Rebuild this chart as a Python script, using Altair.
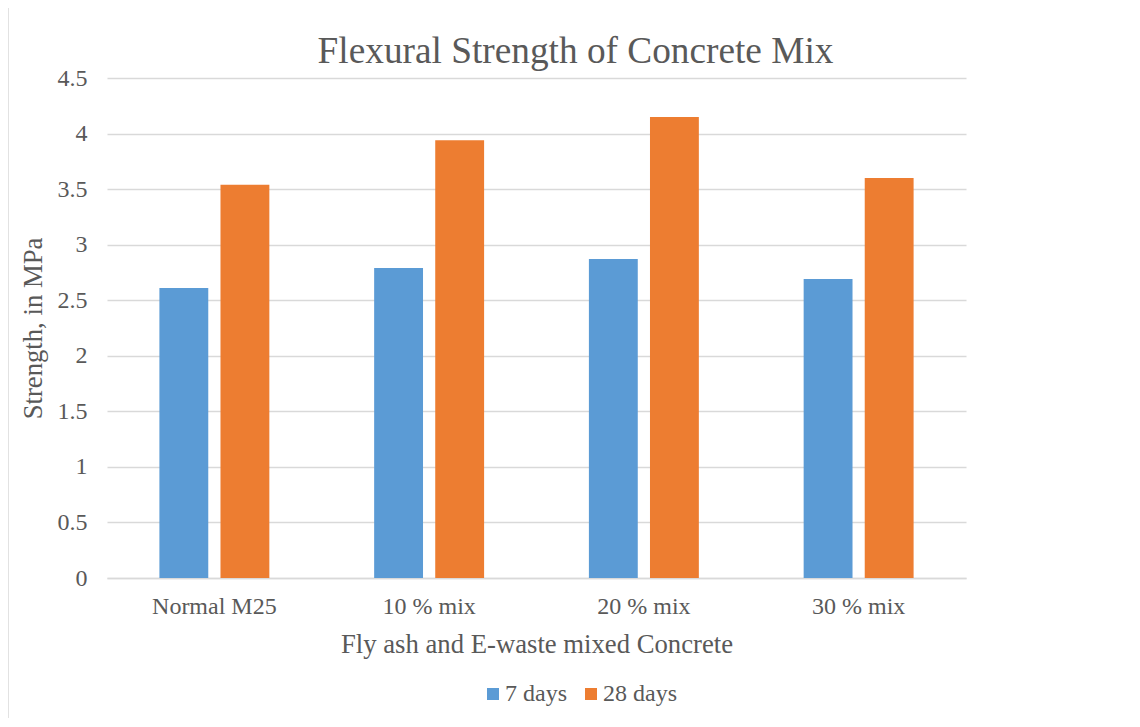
import altair as alt
import pandas as pd

categories = ["Normal M25", "10 % mix", "20 % mix", "30 % mix"]
series = ["7 days", "28 days"]
days7 = [2.61, 2.79, 2.87, 2.69]
days28 = [3.54, 3.94, 4.15, 3.60]
y_ticks = [0, 0.5, 1, 1.5, 2, 2.5, 3, 3.5, 4, 4.5]
title_text = "Flexural Strength of Concrete Mix"

rows = []
for c, a, b in zip(categories, days7, days28):
    rows.append({"cat": c, "series": "7 days", "value": a})
    rows.append({"cat": c, "series": "28 days", "value": b})
df = pd.DataFrame(rows)

FONT = "Times New Roman, Liberation Serif, serif"
TXT = "#595959"

bars = alt.Chart(df).mark_bar().encode(
    x=alt.X("cat:N", sort=categories,
            scale=alt.Scale(paddingInner=0.488, paddingOuter=0.244),
            axis=alt.Axis(title="Fly ash and E-waste mixed Concrete", labelAngle=0,
                          ticks=False, domainColor="#d9d9d9", domainWidth=1.5,
                          labelPadding=16, titlePadding=13,
                          labelFont=FONT, titleFont=FONT,
                          labelFontSize=24, titleFontSize=26.7)),
    xOffset=alt.XOffset("series:N", sort=series,
                        scale=alt.Scale(paddingInner=0.2, paddingOuter=0)),
    y=alt.Y("value:Q", scale=alt.Scale(domain=[0, 4.5], nice=False),
            axis=alt.Axis(title="Strength, in MPa", values=y_ticks,
                          labelExpr="datum.value", ticks=False, domain=False,
                          gridColor="#d9d9d9", gridWidth=1.5,
                          labelPadding=20, titlePadding=10,
                          labelFont=FONT, titleFont=FONT,
                          labelFontSize=24, titleFontSize=26.7)),
    color=alt.Color("series:N", sort=series,
                    scale=alt.Scale(domain=series, range=["#5B9BD5", "#ED7D31"]),
                    legend=alt.Legend(title=None, orient="none", direction="horizontal",
                                      legendX=374, legendY=604, symbolType="square",
                                      symbolSize=144, labelFontSize=24, labelFont=FONT,
                                      columnPadding=12, labelOffset=0)),
)

frame = alt.Chart(pd.DataFrame({"k": [0]})).mark_rule(color="#d9d9d9", strokeWidth=1.5).encode(
    x=alt.value(-99), y=alt.value(-78), y2=alt.value(642)
)

title = alt.Chart(pd.DataFrame({"t": [title_text]})).mark_text(
    font=FONT, fontSize=37.3, color=TXT, align="center", baseline="middle"
).encode(x=alt.value(468.5), y=alt.value(-26), text="t:N")

chart = alt.layer(frame, bars, title).properties(
    width=859, height=500,
    autosize=alt.AutoSizeParams(type="none"),
    padding={"left": 99, "top": 70, "right": 160, "bottom": 140},
).configure_view(stroke=None).configure_axis(
    labelColor=TXT, titleColor=TXT, titleFontWeight="normal"
).configure_legend(labelColor=TXT)

chart.save("out.html", embed_options={"renderer": "svg", "actions": False})
